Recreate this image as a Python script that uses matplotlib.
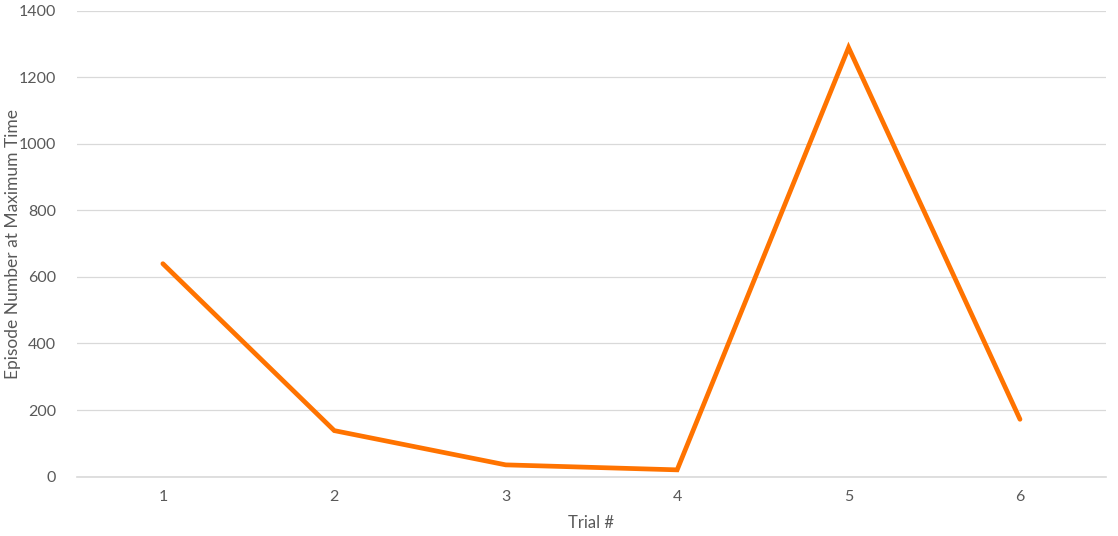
import matplotlib
matplotlib.use("Agg")
import matplotlib.pyplot as plt

trials = ["1", "2", "3", "4", "5", "6"]
episodes = [640, 138, 35, 20, 1290, 172]
y_ticks = [0, 200, 400, 600, 800, 1000, 1200, 1400]

plt.rcParams['font.family'] = ['Lato', 'DejaVu Sans']
fig = plt.figure(figsize=(11.18, 5.36), dpi=100)
ax = fig.add_axes([0.069, 0.111, 0.920, 0.8685])

x = list(range(1, len(trials) + 1))
ax.plot(x, episodes, color="#FF7300", linewidth=3.4, solid_capstyle="round",
        solid_joinstyle="miter", zorder=3)

ax.set_xlim(0.5, len(trials) + 0.5)
ax.set_ylim(0, 1400)
ax.set_yticks(y_ticks)
ax.set_xticks(x)
ax.set_xticklabels(trials)
ax.grid(axis="y", color="#D9D9D9", linewidth=0.9)
ax.set_axisbelow(True)
for s in ["top", "right", "left"]:
    ax.spines[s].set_visible(False)
ax.spines["bottom"].set_color("#D9D9D9")
ax.spines["bottom"].set_linewidth(1.2)
ax.tick_params(axis="both", length=0, labelsize=11.5, colors="#595959", pad=10)
ax.tick_params(axis="y", pad=15)
ax.set_xlabel("Trial #", fontsize=12, color="#595959")
ax.set_ylabel("Episode Number at Maximum Time", fontsize=12.5, color="#595959")
ax.yaxis.set_label_coords(-0.055, 0.5)
ax.xaxis.set_label_coords(0.5, -0.083)

fig.savefig("out.png", dpi=100)
